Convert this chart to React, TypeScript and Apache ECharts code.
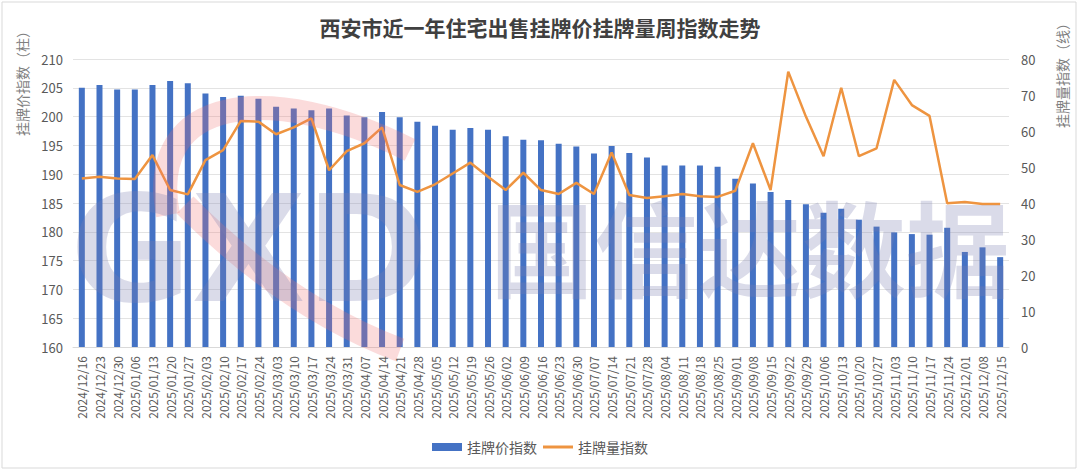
import React, { useEffect, useRef } from "react";
import * as echarts from "echarts";

const categories = [
  "2024/12/16", "2024/12/23", "2024/12/30", "2025/01/06", "2025/01/13", "2025/01/20", "2025/01/27",
  "2025/02/03", "2025/02/10", "2025/02/17", "2025/02/24", "2025/03/03", "2025/03/10", "2025/03/17",
  "2025/03/24", "2025/03/31", "2025/04/07", "2025/04/14", "2025/04/21", "2025/04/28", "2025/05/05",
  "2025/05/12", "2025/05/19", "2025/05/26", "2025/06/02", "2025/06/09", "2025/06/16", "2025/06/23",
  "2025/06/30", "2025/07/07", "2025/07/14", "2025/07/21", "2025/07/28", "2025/08/04", "2025/08/11",
  "2025/08/18", "2025/08/25", "2025/09/01", "2025/09/08", "2025/09/15", "2025/09/22", "2025/09/29",
  "2025/10/06", "2025/10/13", "2025/10/20", "2025/10/27", "2025/11/03", "2025/11/10", "2025/11/17",
  "2025/11/24", "2025/12/01", "2025/12/08", "2025/12/15",
];

const priceIndex = [
  205.0, 205.5, 204.7, 204.7, 205.5, 206.2, 205.8, 204.0, 203.4, 203.6, 203.1, 201.7, 201.4, 201.1,
  201.4, 200.2, 199.9, 200.8, 199.9, 199.1, 198.4, 197.7, 198.0, 197.7, 196.6, 196.0, 195.9, 195.3,
  194.8, 193.6, 194.9, 193.7, 192.9, 191.5, 191.5, 191.5, 191.3, 189.2, 188.4, 186.9, 185.5, 184.8,
  183.3, 184.0, 182.1, 180.9, 179.9, 179.6, 179.5, 180.7, 176.5, 177.3, 175.6,
];

const volumeIndex = [
  46.8, 47.3, 46.8, 46.7, 53.3, 43.6, 42.4, 51.9, 54.7, 62.8, 62.6, 59.1, 61.0, 63.5,
  49.1, 54.4, 56.6, 61.0, 45.0, 43.1, 45.2, 48.2, 51.2, 47.3, 43.6, 48.4, 43.6, 42.5,
  45.6, 42.5, 54.0, 42.2, 41.4, 41.9, 42.5, 41.9, 41.7, 43.4, 56.6, 43.6, 76.5, 64.0,
  53.0, 72.0, 53.0, 55.2, 74.2, 67.2, 64.2, 39.9, 40.3, 39.7, 39.7,
];

const titleText = "西安市近一年住宅出售挂牌价挂牌量周指数走势";
const leftAxisName = "挂牌价指数（柱）";
const rightAxisName = "挂牌量指数（线）";
const seriesNames = ["挂牌价指数", "挂牌量指数"];
const watermarkLatin = "GXD";
const watermarkCjk = "国信达数据";

const FONT = "'Noto Sans CJK SC', 'Noto Sans', sans-serif";

export default function App() {
  const ref = useRef<HTMLDivElement>(null);

  useEffect(() => {
    document.body.style.margin = "0";
    if (!ref.current) return;
    const chart = echarts.init(ref.current, undefined, { renderer: "svg" });
    chart.setOption({
      animation: false,
      backgroundColor: "#ffffff",
      textStyle: { fontFamily: FONT },
      title: {
        text: titleText,
        left: "center",
        top: 11,
        textStyle: { fontSize: 21, fontWeight: "bold", color: "#404040", fontFamily: FONT },
      },
      legend: {
        bottom: 14,
        left: "center",
        itemGap: 6,
        itemWidth: 30,
        itemHeight: 8,
        textStyle: { fontSize: 14, color: "#595959", fontFamily: FONT },
        data: [
          { name: seriesNames[0], icon: "rect" },
          { name: seriesNames[1], icon: "path://M0,0H30V3H0Z" },
        ],
      },
      grid: { left: 73, right: 71, top: 59, bottom: 126 },
      xAxis: {
        type: "category",
        data: categories,
        axisLine: { show: true, lineStyle: { color: "#d9d9d9" } },
        axisTick: { show: false },
        axisLabel: {
          interval: 0,
          rotate: 90,
          margin: 9,
          fontSize: 12,
          color: "#595959",
          fontFamily: FONT,
        },
      },
      yAxis: [
        {
          type: "value",
          min: 160,
          max: 210,
          interval: 5,
          axisLine: { show: false },
          axisTick: { show: false },
          axisLabel: { fontSize: 13, color: "#595959", margin: 10, fontFamily: FONT },
          splitLine: { lineStyle: { color: "#e3e3e3" } },
        },
        {
          type: "value",
          min: 0,
          max: 80,
          interval: 10,
          axisLine: { show: false },
          axisTick: { show: false },
          axisLabel: { fontSize: 13, color: "#595959", margin: 12, fontFamily: FONT },
          splitLine: { show: false },
        },
      ],
      graphic: [
        {
          type: "rect",
          shape: { x: 2, y: 2, width: 1074, height: 466 },
          style: { fill: "none", stroke: "#d9d9d9", lineWidth: 1 },
          silent: true,
        },
        {
          type: "text",
          x: 22,
          y: 80,
          rotation: Math.PI / 2,
          style: {
            text: leftAxisName,
            fontSize: 14,
            fill: "#7f7f7f",
            align: "center",
            verticalAlign: "middle",
            fontFamily: FONT,
          },
        },
        {
          type: "text",
          x: 1062,
          y: 72,
          rotation: Math.PI / 2,
          style: {
            text: rightAxisName,
            fontSize: 14,
            fill: "#7f7f7f",
            align: "center",
            verticalAlign: "middle",
            fontFamily: FONT,
          },
        },
        {
          type: "text",
          x: 70,
          y: 250,
          z: 100,
          silent: true,
          style: {
            text: watermarkLatin,
            fontSize: 148,
            fontWeight: "bold",
            fontFamily: "'DejaVu Sans', sans-serif",
            fill: "#7a7fb0",
            opacity: 0.28,
            align: "left",
            verticalAlign: "middle",
          },
        },
        {
          type: "text",
          x: 1010,
          y: 244,
          z: 100,
          silent: true,
          style: {
            text: watermarkCjk,
            fontSize: 104,
            fontWeight: "bold",
            fontFamily: FONT,
            fill: "#7a7fb0",
            opacity: 0.28,
            align: "right",
            verticalAlign: "middle",
          },
        },
        {
          type: "bezierCurve",
          z: 99,
          silent: true,
          shape: { x1: 168, y1: 215, cpx1: 145, cpy1: 95, cpx2: 270, cpy2: 80, x2: 410, y2: 150 },
          style: { stroke: "#f07070", lineWidth: 24, opacity: 0.25, fill: "none" },
        },
        {
          type: "bezierCurve",
          z: 99,
          silent: true,
          shape: { x1: 185, y1: 205, cpx1: 250, cpy1: 270, cpx2: 320, cpy2: 320, x2: 400, y2: 350 },
          style: { stroke: "#f07070", lineWidth: 24, opacity: 0.25, fill: "none" },
        },
      ],
      series: [
        {
          name: seriesNames[0],
          type: "bar",
          yAxisIndex: 0,
          data: priceIndex,
          barWidth: 6,
          itemStyle: { color: "#4472C4" },
        },
        {
          name: seriesNames[1],
          type: "line",
          yAxisIndex: 1,
          data: volumeIndex,
          symbol: "none",
          lineStyle: { color: "#EE9440", width: 2.5 },
          itemStyle: { color: "#EE9440" },
        },
      ],
    });
    return () => chart.dispose();
  }, []);

  return <div ref={ref} style={{ width: 1080, height: 473 }} />;
}
